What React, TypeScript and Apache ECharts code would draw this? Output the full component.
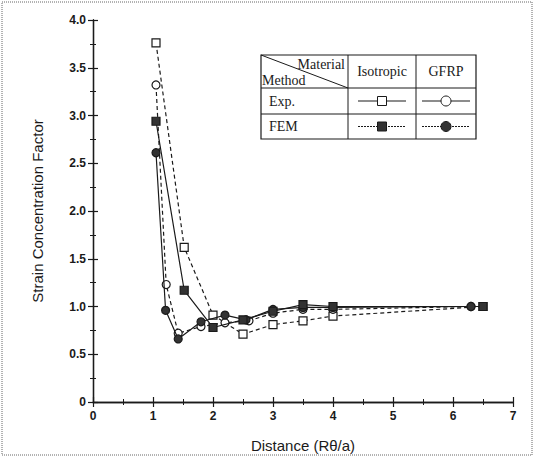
import React, { useEffect, useRef } from "react";
import * as echarts from "echarts";

// Data
const isoExpX = [1.05, 1.52, 2.0, 2.5, 3.0, 3.5, 4.0, 6.5];
const isoExpY = [3.76, 1.62, 0.91, 0.71, 0.81, 0.85, 0.9, 1.0];
const isoFemX = [1.05, 1.52, 2.0, 2.5, 3.0, 3.5, 4.0, 6.5];
const isoFemY = [2.94, 1.17, 0.78, 0.86, 0.95, 1.02, 1.0, 1.0];
const gfrpExpX = [1.05, 1.22, 1.42, 1.8, 2.2, 2.6, 3.0, 3.5, 4.0, 6.3];
const gfrpExpY = [3.32, 1.23, 0.72, 0.79, 0.83, 0.85, 0.93, 0.97, 0.97, 1.0];
const gfrpFemX = [1.05, 1.21, 1.42, 1.8, 2.2, 2.55, 3.0, 3.5, 4.0, 6.3];
const gfrpFemY = [2.61, 0.96, 0.66, 0.84, 0.91, 0.86, 0.97, 0.99, 0.99, 1.0];

const xTicks = [0, 1, 2, 3, 4, 5, 6, 7];
const yTicks = [0, 0.5, 1.0, 1.5, 2.0, 2.5, 3.0, 3.5, 4.0];

const tableRows = ["Exp.", "FEM"];
const tableCols = ["Isotropic", "GFRP"];

const zip = (xs: number[], ys: number[]) => xs.map((x, i) => [x, ys[i]]);

export default function App() {
  const ref = useRef<HTMLDivElement>(null);
  useEffect(() => {
    if (!ref.current) return;
    const chart = echarts.init(ref.current, undefined, { renderer: "svg" });
    const ink = "#1a1a1a";
    const serif = "Liberation Serif";
    const sans = "Liberation Sans";
    const tickFont = { fontFamily: sans, fontSize: 12, fontWeight: "bold" as const, color: ink };

    const axisCommon = {
      axisLine: { show: true, lineStyle: { color: ink, width: 1.3 } },
      axisTick: { show: true, inside: true, length: 5, lineStyle: { color: ink, width: 1.2 } },
      minorTick: { show: true, splitNumber: 2, length: 3, lineStyle: { color: ink, width: 1 } },
      splitLine: { show: false },
    };

    // Legend table geometry
    const L = 261, T = 55, C1 = 348, C2 = 416, R = 476;
    const H1 = 88, H2 = 114, B = 139;
    const lineStyle = { stroke: ink, lineWidth: 1 };
    const f = `14px '${serif}'`;
    const graphic: any[] = [
      { type: "rect", shape: { x: 2, y: 2, width: 530, height: 453 }, style: { fill: "none", stroke: "#666", lineWidth: 1, lineDash: [1, 1] } },
      { type: "rect", shape: { x: L, y: T, width: R - L, height: B - T }, style: { fill: "#fff", stroke: ink, lineWidth: 1.2 } },
      { type: "line", shape: { x1: L, y1: H1, x2: R, y2: H1 }, style: lineStyle },
      { type: "line", shape: { x1: L, y1: H2, x2: R, y2: H2 }, style: lineStyle },
      { type: "line", shape: { x1: C1, y1: T, x2: C1, y2: B }, style: lineStyle },
      { type: "line", shape: { x1: C2, y1: T, x2: C2, y2: B }, style: lineStyle },
      { type: "line", shape: { x1: L, y1: T, x2: C1, y2: H1 }, style: lineStyle },
      { type: "text", x: 345, y: 64, style: { text: "Material", font: f, fill: ink, textAlign: "right", textVerticalAlign: "middle" } },
      { type: "text", x: 262, y: 80, style: { text: "Method", font: f, fill: ink, textAlign: "left", textVerticalAlign: "middle" } },
      { type: "text", x: (C1 + C2) / 2, y: (T + H1) / 2, style: { text: tableCols[0], font: f, fill: ink, textAlign: "center", textVerticalAlign: "middle" } },
      { type: "text", x: (C2 + R) / 2, y: (T + H1) / 2, style: { text: tableCols[1], font: f, fill: ink, textAlign: "center", textVerticalAlign: "middle" } },
      { type: "text", x: 269, y: (H1 + H2) / 2, style: { text: tableRows[0], font: f, fill: ink, textAlign: "left", textVerticalAlign: "middle" } },
      { type: "text", x: 269, y: (H2 + B) / 2, style: { text: tableRows[1], font: f, fill: ink, textAlign: "left", textVerticalAlign: "middle" } },
    ];
    const rowY = [(H1 + H2) / 2, (H2 + B) / 2];
    const colX = [(C1 + C2) / 2, (C2 + R) / 2];
    for (let r = 0; r < 2; r++) {
      for (let c = 0; c < 2; c++) {
        const cx = colX[c], cy = rowY[r];
        graphic.push({
          type: "line",
          shape: { x1: cx - 24, y1: cy, x2: cx + 24, y2: cy },
          style: { stroke: ink, lineWidth: r === 0 ? 1.2 : 1, lineDash: r === 0 ? null : [2, 1] },
        });
        const fill = r === 0 ? "#fff" : "#333";
        if (c === 0) {
          graphic.push({ type: "rect", shape: { x: cx - 4.5, y: cy - 4.5, width: 9, height: 9 }, style: { fill, stroke: ink, lineWidth: 1 } });
        } else {
          graphic.push({ type: "circle", shape: { cx, cy, r: 5 }, style: { fill, stroke: ink, lineWidth: 1 } });
        }
      }
    }

    const mk = (name: string, data: number[][], symbol: string, filled: boolean, dashed: boolean) => ({
      type: "line",
      name,
      data,
      symbol,
      symbolSize: 8,
      showAllSymbol: true,
      itemStyle: { color: filled ? "#333" : "#fff", borderColor: ink, borderWidth: 1.2 },
      lineStyle: { color: ink, width: 1.2, type: dashed ? [4, 3] : "solid" },
      z: filled ? 3 : 2,
    });

    chart.setOption({
      animation: false,
      grid: { left: 93, right: 22, top: 20, bottom: 56, containLabel: false },
      xAxis: [
        {
          type: "value", min: xTicks[0], max: xTicks[xTicks.length - 1], interval: 1,
          name: "Distance (R\u03b8/a)", nameLocation: "middle", nameGap: 36,
          nameTextStyle: { fontFamily: sans, fontSize: 15, color: ink },
          axisLabel: { ...tickFont, margin: 8 },
          ...axisCommon,
        },
        {
          type: "value", position: "top", min: 0, max: 7, interval: 1,
          axisLabel: { show: false }, ...axisCommon,
        },
      ],
      yAxis: [
        {
          type: "value", min: yTicks[0], max: yTicks[yTicks.length - 1], interval: 0.5,
          name: "Strain Concentration Factor", nameLocation: "middle", nameGap: 48,
          nameTextStyle: { fontFamily: sans, fontSize: 15, color: ink },
          axisLabel: { ...tickFont, margin: 7, formatter: (v: number) => (v === 0 ? "0" : v.toFixed(1)) },
          ...axisCommon,
        },
        {
          type: "value", position: "right", min: 0, max: 4, interval: 0.5,
          axisLabel: { show: false }, ...axisCommon,
        },
      ],
      series: [
        mk("Isotropic Exp.", zip(isoExpX, isoExpY), "rect", false, true),
        mk("GFRP Exp.", zip(gfrpExpX, gfrpExpY), "circle", false, true),
        mk("GFRP FEM", zip(gfrpFemX, gfrpFemY), "circle", true, false),
        mk("Isotropic FEM", zip(isoFemX, isoFemY), "rect", true, false),
      ],
      graphic,
    });
    return () => chart.dispose();
  }, []);
  return <div ref={ref} style={{ position: "fixed", left: 0, top: 0, width: 535, height: 458, background: "#fff" }} />;
}
